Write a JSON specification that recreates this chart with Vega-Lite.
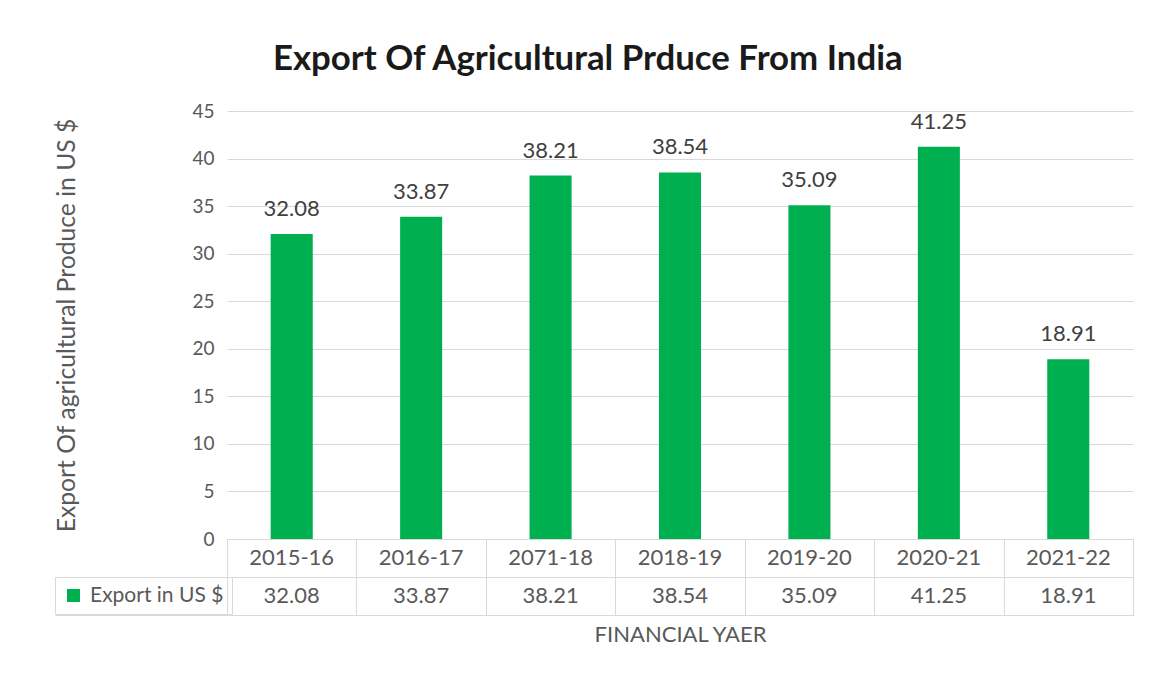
{
  "$schema": "https://vega.github.io/schema/vega-lite/v6.json",
  "background": "white",
  "padding": {"left": 54, "top": 42, "right": 18, "bottom": 5},
  "config": {"font": "Lato", "view": {"stroke": null}},
  "title": {"text": "Export Of Agricultural Prduce From India", "fontSize": 34.8, "fontWeight": "bold", "color": "#1a1a1a", "anchor": "middle", "offset": 24, "dx": -6},
  "data": {"values": [
    {"year": "2015-16", "export": 32.08},
    {"year": "2016-17", "export": 33.87},
    {"year": "2071-18", "export": 38.21},
    {"year": "2018-19", "export": 38.54},
    {"year": "2019-20", "export": 35.09},
    {"year": "2020-21", "export": 41.25},
    {"year": "2021-22", "export": 18.91}
  ]},
  "spacing": 0,
  "bounds": "flush",
  "resolve": {"scale": {"x": "independent", "color": "independent"}},
  "vconcat": [
    {
      "width": 906,
      "height": 428,
      "layer": [
        {
          "mark": {"type": "bar", "color": "#00b050"},
          "encoding": {
            "x": {"field": "year", "type": "nominal", "sort": null, "scale": {"paddingInner": 0.675, "paddingOuter": 0.3375}, "axis": null},
            "y": {"field": "export", "type": "quantitative", "scale": {"domain": [0, 45]},
              "axis": {"values": [0, 5, 10, 15, 20, 25, 30, 35, 40, 45], "grid": true, "gridColor": "#d9d9d9", "domain": false, "ticks": false,
                "labelFontSize": 19, "labelColor": "#595959", "labelPadding": 13,
                "title": "Export Of agricultural Produce in US $", "titleFontSize": 24.7, "titleColor": "#595959", "titleFontWeight": "normal", "titlePadding": 112}},
            "color": {"datum": "Export in US $", "scale": {"range": ["#00b050"]},
              "legend": {"orient": "none", "legendX": -172, "legendY": 466, "title": null, "symbolType": "square", "symbolSize": 169, "symbolStrokeWidth": 0, "symbolOpacity": 1,
                "labelFontSize": 21, "labelColor": "#595959", "labelOffset": 6, "strokeColor": "#d9d9d9", "padding": 8}}
          }
        },
        {
          "mark": {"type": "text", "fontSize": 22, "color": "#404040", "baseline": "alphabetic", "dy": -18},
          "encoding": {
            "x": {"field": "year", "type": "nominal", "sort": null},
            "y": {"field": "export", "type": "quantitative"},
            "text": {"field": "export", "type": "quantitative", "format": ".2f"}
          }
        }
      ]
    },
    {
      "width": 906,
      "height": 76,
      "view": {"stroke": "#d9d9d9"},
      "layer": [
        {
          "mark": {"type": "text", "fontSize": 22, "color": "#595959"},
          "encoding": {
            "x": {"field": "year", "type": "nominal", "sort": null, "scale": {"padding": 0},
              "axis": {"orient": "bottom", "labels": false, "ticks": false, "domain": false, "grid": true, "gridColor": "#d9d9d9", "tickBand": "extent",
                "title": "FINANCIAL YAER", "titleFontSize": 22, "titleColor": "#595959", "titleFontWeight": "normal", "titlePadding": 9}},
            "y": {"datum": "Year", "type": "nominal", "scale": {"domain": ["Year", "Export in US $"], "padding": 0},
              "axis": {"labels": false, "title": null, "domain": false, "grid": true, "gridColor": "#d9d9d9", "tickBand": "extent", "ticks": true, "tickSize": 172, "tickColor": "#d9d9d9",
                "tickOpacity": {"condition": {"test": "datum.index < 0", "value": 0}, "value": 1}}},
            "text": {"field": "year", "type": "nominal"}
          }
        },
        {
          "mark": {"type": "text", "fontSize": 22, "color": "#595959"},
          "encoding": {
            "x": {"field": "year", "type": "nominal", "sort": null},
            "y": {"datum": "Export in US $", "type": "nominal"},
            "text": {"field": "export", "type": "quantitative", "format": ".2f"}
          }
        }
      ]
    }
  ]
}
